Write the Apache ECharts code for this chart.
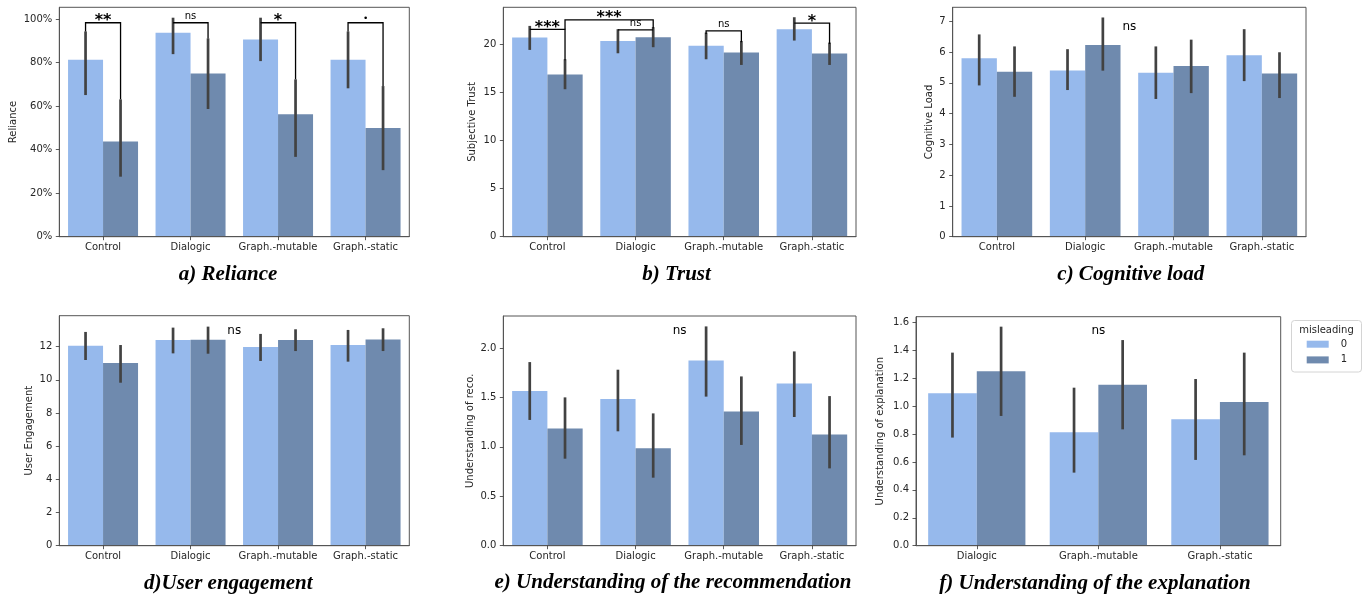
<!DOCTYPE html>
<html><head><meta charset="utf-8">
<script src="https://cdn.jsdelivr.net/npm/echarts@6/dist/echarts.min.js"></script>
<style>html,body{margin:0;padding:0;background:#fff}#c{width:1364px;height:596px}</style>
</head><body><div id="c"></div>
<script>
// ---------------- DATA ----------------
const cats4 = ['Control', 'Dialogic', 'Graph.-mutable', 'Graph.-static'];
const cats3 = ['Dialogic', 'Graph.-mutable', 'Graph.-static'];
const hueNames = ['0', '1'];

// a) Reliance (%)
const relianceM0 = [81.25, 93.75, 90.6, 81.25];
const relianceM1 = [43.75, 75.0, 56.25, 50.0];
const relianceCI0 = [[65.7, 93.7], [84.5, 100], [81.3, 100], [68.8, 93.7]];
const relianceCI1 = [[28.2, 62.5], [59.3, 90.5], [37.3, 71.7], [31.2, 68.6]];
const relianceTicks = [0, 20, 40, 60, 80, 100];
// [catL, hueL, catR, hueR, top, legEndL, legEndR]
const relianceBrackets = [
  [0, 0, 0, 1, 98.3, 94.3, 63.1],
  [1, 0, 1, 1, 98.3, 98.3, 91.1],
  [2, 0, 2, 1, 98.3, 98.3, 72.3],
  [3, 0, 3, 1, 98.3, 94.3, 69.2]
];
const relianceBracketLabels = ['**', 'ns', '*', '•'];

// b) Trust
const trustM0 = [20.66, 20.31, 19.80, 21.53];
const trustM1 = [16.82, 20.70, 19.10, 19.00];
const trustCI0 = [[19.52, 21.73], [19.17, 21.39], [18.55, 21.04], [20.49, 22.63]];
const trustCI1 = [[15.44, 18.27], [19.80, 21.60], [17.96, 20.17], [17.96, 20.00]];
const trustTicks = [0, 5, 10, 15, 20];
const trustBrackets = [
  [0, 0, 0, 1, 21.5, 21.5, 18.3],
  [0, 1, 1, 1, 22.5, 21.5, 21.6],
  [1, 0, 1, 1, 21.45, 21.45, 21.45],
  [2, 0, 2, 1, 21.35, 21.04, 20.17],
  [3, 0, 3, 1, 22.15, 22.15, 20.0]
];
const trustBracketLabels = ['***', '***', 'ns', 'ns', '*'];

// c) Cognitive load
const cogM0 = [5.80, 5.40, 5.33, 5.90];
const cogM1 = [5.36, 6.23, 5.55, 5.30];
const cogCI0 = [[4.96, 6.53], [4.81, 6.05], [4.52, 6.14], [5.10, 6.70]];
const cogCI1 = [[4.59, 6.14], [5.44, 7.08], [4.71, 6.36], [4.55, 5.95]];
const cogTicks = [0, 1, 2, 3, 4, 5, 6, 7];
const cogNs = [[1.5, 6.82]];

// d) User engagement
const engM0 = [12.06, 12.40, 11.98, 12.10];
const engM1 = [11.02, 12.42, 12.40, 12.44];
const engCI0 = [[11.28, 12.81], [11.68, 13.07], [11.22, 12.69], [11.18, 12.93]];
const engCI1 = [[9.91, 12.02], [11.66, 13.13], [11.82, 12.97], [11.82, 13.03]];
const engTicks = [0, 2, 4, 6, 8, 10, 12];
const engNs = [[1.5, 12.97]];

// e) Understanding of the recommendation
const recoM0 = [1.565, 1.484, 1.875, 1.642];
const recoM1 = [1.187, 0.985, 1.359, 1.126];
const recoCI0 = [[1.286, 1.844], [1.171, 1.767], [1.522, 2.205], [1.316, 1.952]];
const recoCI1 = [[0.894, 1.487], [0.702, 1.325], [1.033, 1.699], [0.796, 1.500]];
const recoTicks = [0, 0.5, 1.0, 1.5, 2.0];
const recoNs = [[1.5, 2.175]];

// f) Understanding of the explanation
const explM0 = [1.091, 0.812, 0.905];
const explM1 = [1.249, 1.153, 1.029];
const explCI0 = [[0.784, 1.373], [0.533, 1.122], [0.624, 1.184]];
const explCI1 = [[0.939, 1.559], [0.843, 1.463], [0.657, 1.373]];
const explTicks = [0, 0.2, 0.4, 0.6, 0.8, 1.0, 1.2, 1.4, 1.6];
const explNs = [[1, 1.54]];

// ---------------- LAYOUT / STYLE ----------------
const C0 = '#96b9ec', C1 = '#6f8aae';
const ERR = '#424242';
const TXT = '#262626';
const SANS = 'DejaVu Sans';

const panels = [
  { cats: cats4, m: [relianceM0, relianceM1], ci: [relianceCI0, relianceCI1], ticks: relianceTicks,
    fmt: v => v + '%', name: 'Reliance', max: 105.4, br: relianceBrackets, brL: relianceBracketLabels, ns: null,
    grid: { left: 59.3, top: 7.3, width: 350, height: 229.4 }, gap: 41, title: 'a) Reliance', tp: [228, 275] },
  { cats: cats4, m: [trustM0, trustM1], ci: [trustCI0, trustCI1], ticks: trustTicks,
    fmt: v => String(v), name: 'Subjective Trust', max: 23.8, br: trustBrackets, brL: trustBracketLabels, ns: null,
    grid: { left: 503.3, top: 7.3, width: 352.7, height: 229.4 }, gap: 26, title: 'b) Trust', tp: [676.5, 275] },
  { cats: cats4, m: [cogM0, cogM1], ci: [cogCI0, cogCI1], ticks: cogTicks,
    fmt: v => String(v), name: 'Cognitive Load', max: 7.455, br: null, ns: cogNs,
    grid: { left: 952.7, top: 7.3, width: 353.3, height: 229.4 }, gap: 18.4, title: 'c) Cognitive load', tp: [1130.8, 275] },
  { cats: cats4, m: [engM0, engM1], ci: [engCI0, engCI1], ticks: engTicks,
    fmt: v => String(v), name: 'User Engagement', max: 13.87, br: null, ns: engNs,
    grid: { left: 59.3, top: 315.7, width: 350, height: 230 }, gap: 25.3, title: 'd)User engagement', tp: [228.3, 583.3] },
  { cats: cats4, m: [recoM0, recoM1], ci: [recoCI0, recoCI1], ticks: recoTicks,
    fmt: v => v.toFixed(1), name: 'Understanding of reco.', max: 2.324, br: null, ns: recoNs,
    grid: { left: 503.3, top: 316, width: 352.7, height: 229.7 }, gap: 28.3, title: 'e) Understanding of the recommendation', tp: [673, 583] },
  { cats: cats3, m: [explM0, explM1], ci: [explCI0, explCI1], ticks: explTicks,
    fmt: v => v.toFixed(1), name: 'Understanding of explanation', max: 1.64, br: null, ns: explNs,
    grid: { left: 916, top: 316.7, width: 364.7, height: 229 }, gap: 30.3, title: 'f) Understanding of the explanation', tp: [1095, 583.3] }
];

function renderErr(params, api) {
  const cat = api.value(0), lo = api.value(1), hi = api.value(2), hue = api.value(3);
  const bw = api.size([1, 0])[0];
  const off = (hue === 0 ? -0.2 : 0.2) * bw;
  const p1 = api.coord([cat, lo]), p2 = api.coord([cat, hi]);
  return { type: 'line', shape: { x1: p1[0] + off, y1: p1[1], x2: p2[0] + off, y2: p2[1] },
    style: { stroke: ERR, lineWidth: 2.7, lineCap: 'square' } };
}

function makeBracketRenderer(labels) {
  return function (params, api) {
    const cL = api.value(0), hL = api.value(1), cR = api.value(2), hR = api.value(3);
    const top = api.value(4), eL = api.value(5), eR = api.value(6);
    const bw = api.size([1, 0])[0];
    const xL = api.coord([cL, top])[0] + (hL === 0 ? -0.2 : 0.2) * bw;
    const xR = api.coord([cR, top])[0] + (hR === 0 ? -0.2 : 0.2) * bw;
    const yT = api.coord([cL, top])[1];
    const yL = api.coord([cL, eL])[1];
    const yR = api.coord([cR, eR])[1];
    const lab = labels[params.dataIndex];
    let fs = 10, fw = 'normal', dy = 6.5;
    if (lab.indexOf('*') >= 0) { fs = 16; fw = 'bold'; dy = 1.5; }
    else if (lab === '•') { fs = 9; dy = 4; }
    return { type: 'group', children: [
      { type: 'polyline', shape: { points: [[xL, yL], [xL, yT], [xR, yT], [xR, yR]] },
        style: { stroke: '#000', lineWidth: 1.3, fill: null } },
      { type: 'text', style: { text: lab, x: (xL + xR) / 2, y: yT - dy, align: 'center', verticalAlign: 'middle',
        fontSize: fs, fontWeight: fw, fontFamily: SANS, fill: '#000' } }
    ] };
  };
}

function renderNs(params, api) {
  const pos = api.value(0), y = api.value(1);
  const base = Math.floor(pos);
  const bw = api.size([1, 0])[0];
  const p = api.coord([base, y]);
  return { type: 'text', style: { text: 'ns', x: p[0] + (pos - base) * bw, y: p[1], align: 'center',
    verticalAlign: 'middle', fontSize: 12, fontFamily: SANS, fill: '#000' } };
}

const option = {
  animation: false,
  backgroundColor: '#fff',
  grid: [], xAxis: [], yAxis: [], series: [],
  legend: {
    data: hueNames, orient: 'vertical', left: 1306.7, top: 338.2, padding: 0,
    itemWidth: 22, itemHeight: 7, itemGap: 3.7, icon: 'rect', selectedMode: false,
    textStyle: { fontSize: 10, fontFamily: SANS, color: TXT, lineHeight: 12, padding: [0, 0, 0, 7] }
  },
  graphic: []
};

panels.forEach((p, i) => {
  option.grid.push(Object.assign({ show: true, borderColor: '#555', borderWidth: 1, backgroundColor: 'transparent' }, p.grid));
  option.xAxis.push({
    type: 'category', gridIndex: i, data: p.cats, z: 5,
    axisLine: { show: true, lineStyle: { color: '#555', width: 1 } },
    axisTick: { show: true, alignWithLabel: true, length: 3.5, lineStyle: { color: '#333', width: 0.8 } },
    axisLabel: { interval: 0, fontSize: 10, fontFamily: SANS, color: TXT, margin: 6 },
    splitLine: { show: false }
  });
  option.yAxis.push({
    type: 'value', gridIndex: i, min: 0, max: p.max, z: 5,
    name: p.name, nameLocation: 'middle', nameGap: p.gap,
    nameTextStyle: { fontSize: 10, fontFamily: SANS, color: TXT },
    axisLine: { show: true, lineStyle: { color: '#555', width: 1 } },
    axisTick: { show: true, length: 3.5, customValues: p.ticks, lineStyle: { color: '#333', width: 0.8 } },
    axisLabel: { customValues: p.ticks, formatter: p.fmt, fontSize: 10, fontFamily: SANS, color: TXT, margin: 7 },
    splitLine: { show: false }
  });
  [0, 1].forEach(h => {
    option.series.push({
      type: 'bar', name: hueNames[h], xAxisIndex: i, yAxisIndex: i, data: p.m[h],
      barGap: '0%', barCategoryGap: '20%', itemStyle: { color: h === 0 ? C0 : C1 },
      emphasis: { disabled: true }, z: 2
    });
  });
  const errData = [];
  [0, 1].forEach(h => p.ci[h].forEach((c, k) => errData.push([k, c[0], c[1], h])));
  option.series.push({
    type: 'custom', xAxisIndex: i, yAxisIndex: i, data: errData, renderItem: renderErr,
    encode: { x: 0, y: [1, 2] }, z: 3, silent: true
  });
  if (p.br) {
    option.series.push({
      type: 'custom', xAxisIndex: i, yAxisIndex: i, data: p.br, renderItem: makeBracketRenderer(p.brL),
      encode: { x: [0, 2], y: [4, 5, 6] }, z: 4, silent: true
    });
  }
  if (p.ns) {
    option.series.push({
      type: 'custom', xAxisIndex: i, yAxisIndex: i, data: p.ns, renderItem: renderNs,
      encode: { x: 0, y: 1 }, z: 4, silent: true
    });
  }
  option.graphic.push({
    type: 'text', x: p.tp[0], y: p.tp[1], z: 10,
    style: { text: p.title, align: 'center', verticalAlign: 'middle', fontFamily: 'Liberation Serif',
      fontStyle: 'italic', fontWeight: 'bold', fontSize: 21, fill: '#000' }
  });
});

// legend frame and title
option.graphic.push({
  type: 'rect', z: -1, shape: { x: 1291.5, y: 320.5, width: 70, height: 51.5, r: 3 },
  style: { fill: '#fff', stroke: '#d4d4d4', lineWidth: 1 }
});
option.graphic.push({
  type: 'text', x: 1326.5, y: 330, z: 10,
  style: { text: 'misleading', align: 'center', verticalAlign: 'middle', fontFamily: SANS, fontSize: 10, fill: TXT }
});

const chart = echarts.init(document.getElementById('c'), null, { renderer: 'canvas' });
chart.setOption(option);
</script>
</body></html>
